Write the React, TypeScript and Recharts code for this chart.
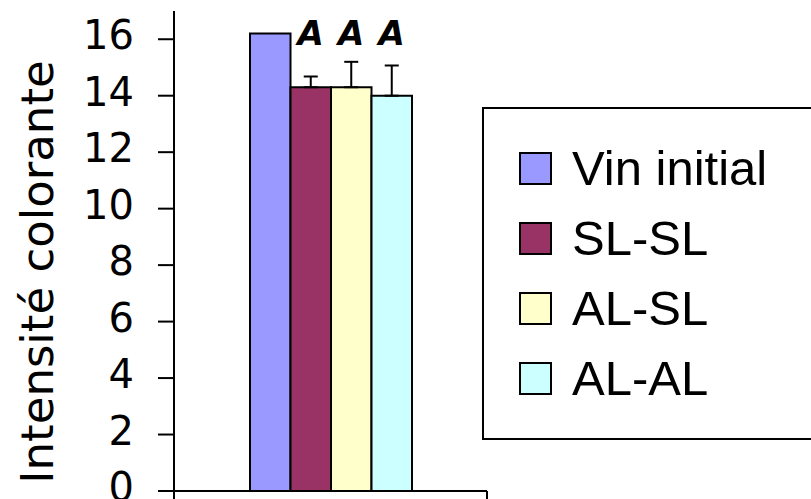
import { BarChart, Bar, XAxis, YAxis, Legend, ErrorBar, LabelList, Label } from 'recharts';

// Intensité colorante des vins selon le traitement
const seriesNames = ['Vin initial', 'SL-SL', 'AL-SL', 'AL-AL'];
const seriesColors = ['#9999FF', '#993366', '#FFFFCC', '#CCFFFF'];
const meanValues = [16.2, 14.3, 14.3, 14.0];
const upperErrors = [0, 0.38, 0.9, 1.07];
const groupLetters = ['', 'A', 'A', 'A'];
const yTicks = [0, 2, 4, 6, 8, 10, 12, 14, 16];

// value at which the significance letters sit
const LETTER_LEVEL = 15.8;
const PLOT_WIDTH = 313;

const comic = "'Comic Sans MS', 'DejaVu Sans', sans-serif";

const row: Record<string, any> = { name: '' };
seriesNames.forEach((_, i) => {
  row[`s${i}`] = meanValues[i];
  row[`e${i}`] = [0, upperErrors[i]];
});
const data = [row];

const YTick = (props: any) => {
  const { x, y, payload } = props;
  return (
    <text x={x} y={y + 10} textAnchor="end" fontFamily={comic} fontSize={40} fill="#000">
      {payload.value}
    </text>
  );
};

// Excel-style ticks at the category edges
const XEdgeTicks = (props: any) => {
  const { x, y } = props;
  const half = PLOT_WIDTH / 2;
  return (
    <g stroke="#000" strokeWidth={2}>
      <line x1={x - half} x2={x - half} y1={y} y2={y + 16} />
      <line x1={x + half} x2={x + half} y1={y} y2={y + 16} />
    </g>
  );
};

const letterLabel = (letter: string) => (props: any) => {
  const vb = props.viewBox || props;
  const { x, y, width, height } = vb;
  const value = Number(props.value);
  const base = y + height;
  const ty = base - (LETTER_LEVEL * height) / value;
  return (
    <text
      x={x + width / 2}
      y={ty}
      textAnchor="middle"
      fontFamily={comic}
      fontWeight="bold"
      fontStyle="italic"
      fontSize={34}
      fill="#000"
    >
      {letter}
    </text>
  );
};

const renderLegend = (props: any) => {
  const payload = [...(props.payload || [])].sort(
    (a: any, b: any) => seriesNames.indexOf(a.value) - seriesNames.indexOf(b.value)
  );
  return (
    <div
      style={{
        boxSizing: 'border-box',
        width: 340,
        height: 333,
        border: '2px solid #000',
        background: '#fff',
        paddingTop: 24,
        fontFamily: "'Liberation Sans', Arial, sans-serif",
        fontSize: 49,
        color: '#000',
      }}
    >
      {payload.map((entry: any) => {
        const idx = seriesNames.indexOf(entry.value);
        return (
          <div key={entry.value} style={{ display: 'flex', alignItems: 'center', height: 70 }}>
            <span
              style={{
                boxSizing: 'border-box',
                display: 'inline-block',
                width: 33,
                height: 33,
                marginLeft: 35,
                border: '2px solid #000',
                background: seriesColors[idx] ?? entry.color,
              }}
            />
            <span style={{ marginLeft: 20, lineHeight: '70px' }}>{entry.value}</span>
          </div>
        );
      })}
    </div>
  );
};

export default function App() {
  return (
    <div
      style={{
        position: 'absolute',
        left: 0,
        top: 0,
        width: 811,
        height: 499,
        overflow: 'hidden',
        background: '#fff',
      }}
    >
      <BarChart
        width={811}
        height={499}
        data={data}
        margin={{ top: 11, right: 324, bottom: 0, left: 0 }}
        barGap={0}
        barSize={40.5}
      >
        <XAxis
          dataKey="name"
          height={8}
          axisLine={{ stroke: '#000', strokeWidth: 2 }}
          tickLine={false}
          tickSize={0}
          tickMargin={0}
          tick={<XEdgeTicks />}
          interval={0}
        />
        <YAxis
          type="number"
          domain={[0, 17]}
          ticks={yTicks}
          interval={0}
          width={174}
          axisLine={{ stroke: '#000', strokeWidth: 2 }}
          tickLine={{ stroke: '#000', strokeWidth: 2 }}
          tickSize={16}
          tickMargin={24}
          tick={<YTick />}
        >
          <Label
            content={() => (
              <text
                transform="translate(53, 272) rotate(-90)"
                textAnchor="middle"
                fontFamily={comic}
                fontSize={45}
                fill="#000"
              >
                Intensité colorante
              </text>
            )}
          />
        </YAxis>
        <Legend
          layout="vertical"
          align="center"
          verticalAlign="middle"
          content={renderLegend}
          wrapperStyle={{ left: 482, top: 107, width: 340, height: 333 }}
        />
        {seriesNames.map((name, i) => (
          <Bar
            key={name}
            dataKey={`s${i}`}
            name={name}
            fill={seriesColors[i]}
            stroke="#000"
            strokeWidth={2}
            isAnimationActive={false}
          >
            {upperErrors[i] > 0 && (
              <ErrorBar
                dataKey={`e${i}`}
                direction="y"
                width={7}
                stroke="#000"
                strokeWidth={2}
                isAnimationActive={false}
              />
            )}
            {groupLetters[i] && <LabelList dataKey={`s${i}`} content={letterLabel(groupLetters[i])} />}
          </Bar>
        ))}
      </BarChart>
    </div>
  );
}
